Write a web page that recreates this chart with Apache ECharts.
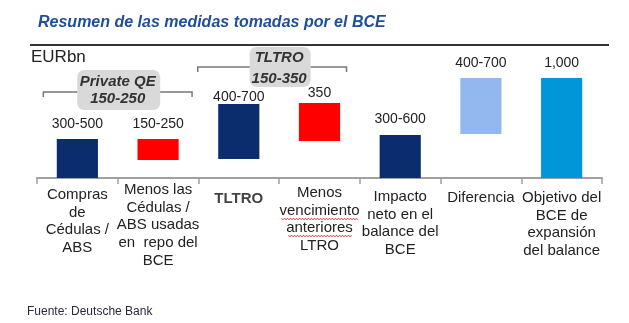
<!DOCTYPE html>
<html>
<head>
<meta charset="utf-8">
<script src="https://cdn.jsdelivr.net/npm/echarts@6/dist/echarts.min.js"></script>
<style>
html,body{margin:0;padding:0;background:#fff;}
#c{width:629px;height:323px;}
</style>
</head>
<body>
<div id="c"></div>
<script>
// ---- data ----
const categories = [
  'Compras\nde\nCédulas /\nABS',
  'Menos las\nCédulas /\nABS usadas\nen  repo del\nBCE',
  'TLTRO',
  'Menos\nvencimiento\nanteriores\nLTRO',
  'Impacto\nneto en el\nbalance del\nBCE',
  'Diferencia',
  'Objetivo del\nBCE de\nexpansión\ndel balance'
];
const barBase = [0, 180, 190, 370, 0, 440, 0];
const barTop = [390, 390, 740, 750, 430, 1000, 1000];
const valueLabels = ['300-500', '150-250', '400-700', '350', '300-600', '400-700', '1,000'];
const groupNames = ['Private QE', 'TLTRO'];
const groupRanges = ['150-250', '150-350'];
const groupMembers = [[0, 1], [2, 3]];
const titleText = 'Resumen de las medidas tomadas por el BCE';
const unitText = 'EURbn';
const sourceText = 'Fuente: Deutsche Bank';

// ---- styles ----
const FONT = 'Liberation Sans';
const barColors = ['#0b2d6e', '#ff0000', '#0b2d6e', '#ff0000', '#0b2d6e', '#93b8f0', '#0096d8'];
const labelDist = [8, 8, 0, 3, 9, 8, 8];
const spacer = [6, 1, 10, 4, 8, 9, 9];

const chart = echarts.init(document.getElementById('c'), null, {renderer: 'canvas'});

const rich = {
  t: {fontFamily: FONT, fontSize: 15, lineHeight: 17.7, color: '#222', align: 'center'},
  b: {fontFamily: FONT, fontSize: 15, fontWeight: 'bold', lineHeight: 17.7, color: '#444', align: 'center'}
};
spacer.forEach((h, i) => { rich['s' + i] = {fontSize: 1, lineHeight: h, height: h}; });

chart.setOption({
  animation: false,
  backgroundColor: '#fff',
  title: {
    text: titleText,
    left: 33, top: 10,
    textStyle: {fontFamily: FONT, fontSize: 16, fontWeight: 'bold', fontStyle: 'italic', color: '#1f4f98'}
  },
  grid: {left: 37, right: 27, top: 78, bottom: 145, containLabel: false},
  xAxis: {
    type: 'category',
    data: categories,
    boundaryGap: true,
    axisLine: {lineStyle: {color: '#a0a0a0', width: 2}},
    axisTick: {show: true, length: 6, lineStyle: {color: '#a0a0a0', width: 1.5}},
    axisLabel: {
      interval: 0,
      margin: 2,
      formatter: function (v, i) {
        return '{s' + i + '| }\n{' + (i === 2 ? 'b' : 't') + '|' + v + '}';
      },
      rich: rich
    }
  },
  yAxis: {type: 'value', min: 0, max: 1000, show: false, splitLine: {show: false}},
  series: [
    {
      type: 'bar', stack: 'w', silent: true,
      itemStyle: {color: 'transparent'},
      barWidth: '51%',
      data: barBase
    },
    {
      type: 'bar', stack: 'w',
      barWidth: '51%',
      data: barTop.map((t, i) => ({
        value: t - barBase[i],
        itemStyle: {color: barColors[i]},
        label: {distance: labelDist[i]}
      })),
      label: {
        show: true, position: 'top',
        fontFamily: FONT, fontSize: 14, color: '#222',
        formatter: p => valueLabels[p.dataIndex]
      }
    }
  ]
});

// ---- annotations positioned from the category axis ----
const px = i => chart.convertToPixel({xAxisIndex: 0}, i);
const g = [];
g.push({type: 'line', shape: {x1: 30, y1: 45, x2: 609, y2: 45}, style: {stroke: '#333', lineWidth: 2}, z: 10});
g.push({type: 'text', x: 31, y: 57, style: {text: unitText, fontFamily: FONT, fontSize: 17, fill: '#222', verticalAlign: 'middle'}});
g.push({type: 'text', x: 27, y: 312, style: {text: sourceText, fontFamily: FONT, fontSize: 12, fill: '#2a2a3a', verticalAlign: 'middle'}});

const bracketCfg = [
  {y: 92, padL: 34, padR: 34, boxW: 83, boxTop: 70, boxH: 40, ty1: 82, ty2: 99},
  {y: 67, padL: 41, padR: 27, boxW: 61, boxTop: 47, boxH: 40, ty1: 58, ty2: 79}
];
groupMembers.forEach((m, k) => {
  const c = bracketCfg[k];
  const a = px(m[0]), b = px(m[1]);
  const x1 = a - c.padL, x2 = b + c.padR, mid = (a + b) / 2;
  g.push({type: 'polyline', shape: {points: [[x1, c.y + 5], [x1, c.y], [x2, c.y], [x2, c.y + 5]]},
    style: {stroke: '#777', lineWidth: 1.5, fill: null}, z: 5});
  g.push({type: 'rect', shape: {x: mid - c.boxW / 2 + 1, y: c.boxTop, width: c.boxW, height: c.boxH, r: 7},
    style: {fill: '#d9d9d9'}, z: 6});
  g.push({type: 'text', x: mid, y: c.ty1, z: 7, style: {text: groupNames[k], fontFamily: FONT, fontSize: 15,
    fontWeight: 'bold', fontStyle: 'italic', fill: '#333', align: 'center', verticalAlign: 'middle'}});
  g.push({type: 'text', x: mid, y: c.ty2, z: 7, style: {text: groupRanges[k], fontFamily: FONT, fontSize: 15,
    fontWeight: 'bold', fontStyle: 'italic', fill: '#333', align: 'center', verticalAlign: 'middle'}});
});

// spell-check style wavy underlines under two words of category 4
const c4 = px(3);
function wavy(xa, xb, y) {
  const pts = [];
  let up = true;
  for (let x = xa; x <= xb; x += 1.5) { pts.push([x, y + (up ? -0.8 : 0.8)]); up = !up; }
  return {type: 'polyline', shape: {points: pts}, style: {stroke: '#e02020', lineWidth: 0.9, fill: null}, z: 8};
}
g.push(wavy(c4 - 38, c4 + 39, 219));
g.push(wavy(c4 - 31, c4 + 32, 236));

chart.setOption({graphic: g});
</script>
</body>
</html>
